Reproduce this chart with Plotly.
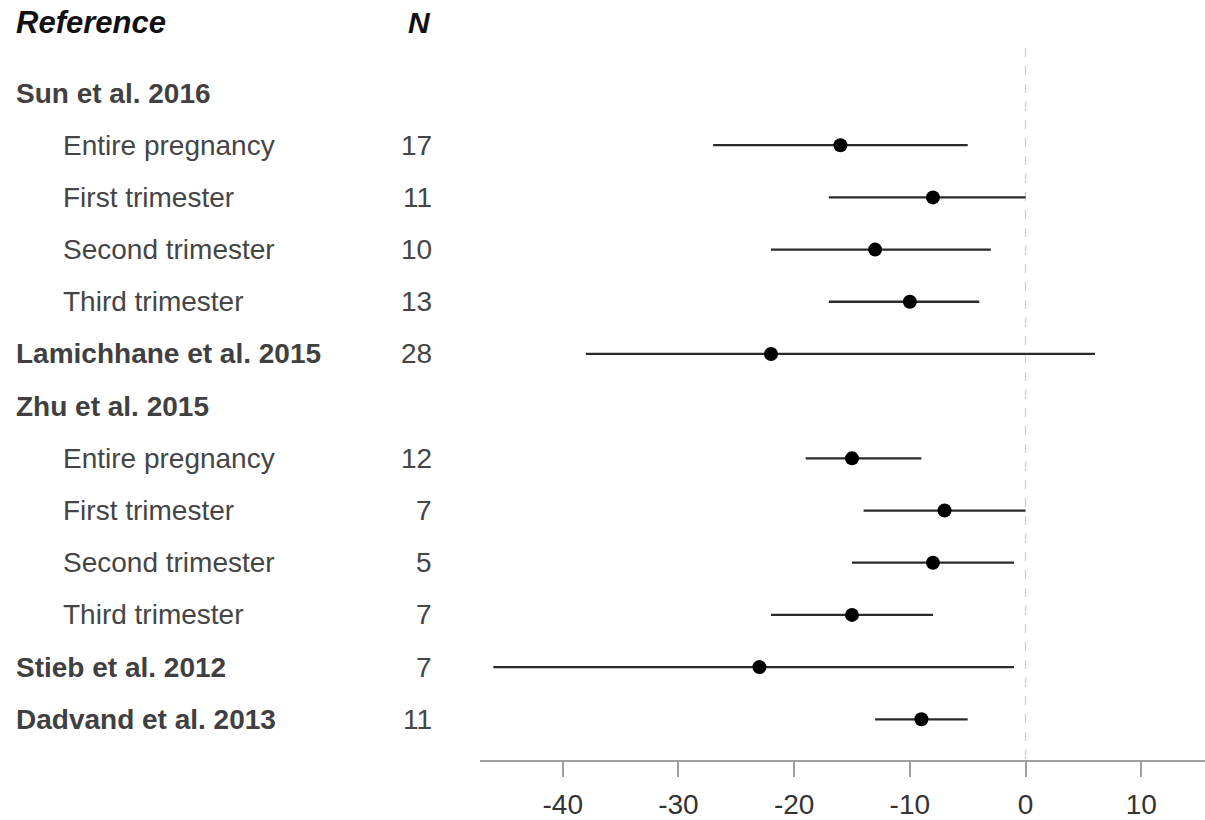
import plotly.graph_objects as go

# ---- data ----
labels = ["Sun et al. 2016", "Entire pregnancy", "First trimester", "Second trimester",
          "Third trimester", "Lamichhane et al. 2015", "Zhu et al. 2015", "Entire pregnancy",
          "First trimester", "Second trimester", "Third trimester", "Stieb et al. 2012",
          "Dadvand et al. 2013"]
is_header = [True, False, False, False, False, True, True, False, False, False, False, True, True]
n_values = ["", "17", "11", "10", "13", "28", "", "12", "7", "5", "7", "7", "11"]
estimate = [None, -16, -8, -13, -10, -22, None, -15, -7, -8, -15, -23, -9]
ci_low = [None, -27, -17, -22, -17, -38, None, -19, -14, -15, -22, -46, -13]
ci_high = [None, -5, 0, -3, -4, 6, None, -9, 0, -1, -8, -1, -5]
x_ticks = [-40, -30, -20, -10, 0, 10]

FONT = "Liberation Sans, Arial, sans-serif"
L, W = 480, 725  # plot left & width (pixels)

def px(p):
    return (p - L) / W

rows = [i for i, e in enumerate(estimate) if e is not None]
xs = [estimate[i] for i in rows]
ys = [i for i in rows]
plus = [ci_high[i] - estimate[i] for i in rows]
minus = [estimate[i] - ci_low[i] for i in rows]

fig = go.Figure()
fig.add_trace(go.Scatter(
    x=xs, y=ys, mode="markers",
    marker=dict(color="black", size=14),
    error_x=dict(type="data", symmetric=False, array=plus, arrayminus=minus,
                 width=0, thickness=2.3, color="#2a2a2a"),
    hoverinfo="skip", showlegend=False,
))

fig.add_shape(type="line", xref="x", yref="y", x0=0, x1=0, y0=-0.86, y1=12.78,
              line=dict(color="#cfcfcf", width=1.3, dash="dash"), layer="below")

ann = []
ann.append(dict(text="<b><i>Reference</i></b>", xref="paper", yref="y", x=px(14), y=-1.36,
                xanchor="left", yanchor="middle", showarrow=False,
                font=dict(family=FONT, size=31, color="#111111")))
ann.append(dict(text="<b><i>N</i></b>", xref="paper", yref="y", x=px(433), y=-1.36,
                xanchor="right", yanchor="middle", showarrow=False,
                font=dict(family=FONT, size=30, color="#111111")))
for i, lab in enumerate(labels):
    if is_header[i]:
        ann.append(dict(text="<b>" + lab + "</b>", xref="paper", yref="y", x=px(14), y=i,
                        xanchor="left", yanchor="middle", showarrow=False,
                        font=dict(family=FONT, size=28, color="#404040")))
    else:
        ann.append(dict(text=lab, xref="paper", yref="y", x=px(61), y=i,
                        xanchor="left", yanchor="middle", showarrow=False,
                        font=dict(family=FONT, size=28, color="#454545")))
    if n_values[i]:
        ann.append(dict(text=n_values[i], xref="paper", yref="y", x=px(434), y=i,
                        xanchor="right", yanchor="middle", showarrow=False,
                        font=dict(family=FONT, size=28, color="#454545")))

fig.update_layout(
    width=1205, height=820,
    margin=dict(l=L, r=0, t=0, b=60),
    paper_bgcolor="white", plot_bgcolor="white",
    annotations=ann,
    xaxis=dict(range=[-47.15, 15.51], tickvals=x_ticks, ticktext=[str(t) for t in x_ticks],
               showgrid=False, zeroline=False, showline=True, linecolor="#a0a0a0",
               linewidth=1.5, ticks="outside", ticklen=15, tickwidth=1.5, tickcolor="#a0a0a0",
               ticklabelstandoff=4,
               tickfont=dict(family=FONT, size=28, color="#333333")),
    yaxis=dict(range=[12.78, -1.782], visible=False, showgrid=False, zeroline=False),
)

fig.write_html("out.html",
               config={"displayModeBar": False},
               post_script="document.body.style.margin='0';document.body.style.overflow='hidden';")
